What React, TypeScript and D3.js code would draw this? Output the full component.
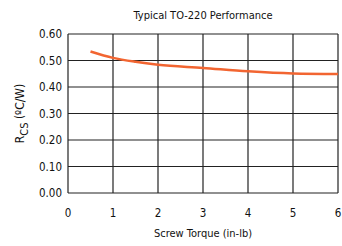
import React, { useEffect, useRef } from 'react';
import * as d3 from 'd3';

const torque = [0.5, 1, 1.5, 2, 3, 4, 5, 6];
const resistance = [0.534, 0.51, 0.495, 0.484, 0.472, 0.459, 0.451, 0.449];
const xTicks = [0, 1, 2, 3, 4, 5, 6];
const yTicks = [0, 0.1, 0.2, 0.3, 0.4, 0.5, 0.6];

const FONT = "'DejaVu Sans Condensed', 'Roboto', sans-serif";

const App: React.FC = () => {
  const svgRef = useRef<SVGSVGElement>(null);

  useEffect(() => {
    const svg = d3.select(svgRef.current);
    svg.selectAll('*').remove();

    const margin = { top: 34, right: 4, bottom: 53, left: 68 };
    const W = 342, H = 246;
    const width = W - margin.left - margin.right;
    const height = H - margin.top - margin.bottom;

    const g = svg.append('g').attr('transform', `translate(${margin.left},${margin.top})`);

    const x = d3.scaleLinear().domain([0, 6]).range([0, width]);
    const y = d3.scaleLinear().domain([0, 0.6]).range([height, 0]);

    // Grid
    g.selectAll('.vgrid').data(xTicks).enter().append('line')
      .attr('x1', d => x(d)).attr('x2', d => x(d))
      .attr('y1', 0).attr('y2', height)
      .attr('stroke', '#222').attr('stroke-width', 1.2);
    g.selectAll('.hgrid').data(yTicks).enter().append('line')
      .attr('x1', 0).attr('x2', width)
      .attr('y1', d => y(d)).attr('y2', d => y(d))
      .attr('stroke', '#222').attr('stroke-width', 1.2);

    // Tick labels
    g.selectAll('.ylab').data(yTicks).enter().append('text')
      .attr('x', -6).attr('y', d => y(d)).attr('dy', '0.35em')
      .attr('text-anchor', 'end')
      .style('font-family', FONT).style('font-size', '11.5px').attr('fill', '#111')
      .text(d => d3.format('.2f')(d));
    g.selectAll('.xlab').data(xTicks).enter().append('text')
      .attr('x', d => x(d)).attr('y', height + 24)
      .attr('text-anchor', 'middle')
      .style('font-family', FONT).style('font-size', '11.5px').attr('fill', '#111')
      .text(d => String(d));

    // Curve
    const line = d3.line<number>()
      .x((d, i) => x(torque[i]))
      .y(d => y(d))
      .curve(d3.curveMonotoneX);
    g.append('path')
      .datum(resistance)
      .attr('d', line)
      .attr('fill', 'none')
      .attr('stroke', '#f26531')
      .attr('stroke-width', 2.5);

    // Title
    svg.append('text')
      .attr('x', margin.left + width / 2).attr('y', 19)
      .attr('text-anchor', 'middle')
      .style('font-family', FONT).style('font-size', '11px').attr('fill', '#111')
      .text('Typical TO-220 Performance');

    // X title
    svg.append('text')
      .attr('x', margin.left + width / 2).attr('y', 237)
      .attr('text-anchor', 'middle')
      .style('font-family', FONT).style('font-size', '11px').attr('fill', '#111')
      .text('Screw Torque (in-lb)');

    // Y title
    const yt = svg.append('text')
      .attr('transform', `translate(24,${margin.top + height / 2}) rotate(-90)`)
      .attr('text-anchor', 'middle')
      .style('font-family', FONT).style('font-size', '12px').attr('fill', '#111');
    yt.append('tspan').text('R');
    yt.append('tspan').attr('dy', 4).style('font-size', '11px').text('CS');
    yt.append('tspan').attr('dy', -4).text('  (ºC/W)');
  }, []);

  return (
    <svg ref={svgRef} width={342} height={246}
      style={{ position: 'absolute', left: 0, top: 0, background: '#fff' }} />
  );
};

export default App;
